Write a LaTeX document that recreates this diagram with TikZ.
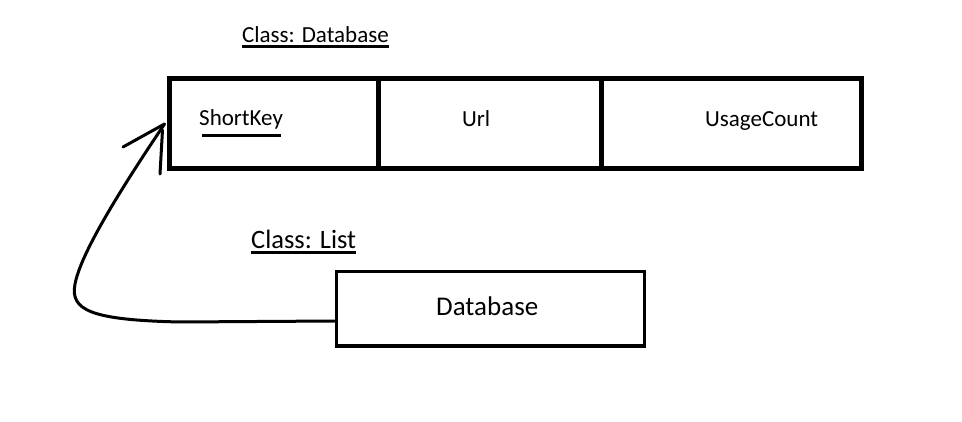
\documentclass[tikz,border=0pt]{standalone}
\usepackage{fontspec}
\setmainfont{Carlito}
\begin{document}
\begin{tikzpicture}[x=1pt,y=-1pt,
  cell/.style={draw, line width=5pt, rectangle, inner sep=0pt, minimum height=90pt},
  listbox/.style={draw, line width=3pt, rectangle, inner sep=0pt},
  txt/.style={inner sep=0pt, anchor=base west, font=\fontsize{23}{28}\selectfont},
  bigtxt/.style={inner sep=0pt, anchor=base west, font=\fontsize{26.5}{32}\selectfont},
  uline/.style={line width=3pt},
  conn/.style={line width=3pt, line cap=round, line join=round}]
\useasboundingbox (0,0) rectangle (962,422);
\fill[white] (0,0) rectangle (962,422);
% top class
\node[txt] (cdb) at (242,43) {Class: Database};
\draw[uline] ([yshift=-4pt]cdb.base west) -- ([yshift=-4pt]cdb.base east);
\node[cell, minimum width=209pt] (c1) at (273.5,124) {};
\node[cell, minimum width=223pt] (c2) at (489.5,124) {};
\node[cell, minimum width=260pt] (c3) at (731,124) {};
\node[txt] (sk) at (199,126) {ShortKey};
\draw[uline] ([xshift=3pt,yshift=-10pt]sk.base west) -- ([xshift=-2pt,yshift=-10pt]sk.base east);
\node[txt] (url) at (462,127) {Url};
\node[txt] (uc) at (705,127) {UsageCount};
% list class
\node[bigtxt] (cl) at (251,249) {Class: List};
\draw[uline] ([yshift=-4pt]cl.base west) -- ([yshift=-4pt]cl.base east);
\node[listbox, minimum width=308pt, minimum height=74pt] (lst) at (490,309) {};
\node[bigtxt, font=\fontsize{27}{32}\selectfont] (dbt) at (436,316) {Database};
% connector
\coordinate (tip) at ([xshift=-2pt]c1.west);
\draw[conn] ([yshift=-12pt]lst.west) -- (180,322)
  .. controls (90,320) and (70,310) .. (75,284)
  .. controls (80,258) and (108,208) .. (tip);
\draw[conn] (tip) -- (123,147);
\draw[conn] ([xshift=-2pt,yshift=-6pt]tip) -- (160,174);
\end{tikzpicture}
\end{document}
